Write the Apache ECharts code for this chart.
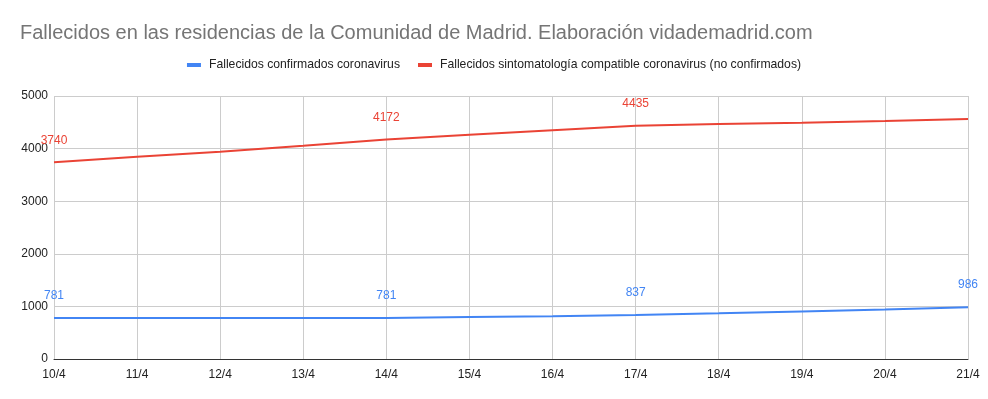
<html>
<head>
  <meta charset="UTF-8">
  <title>Fallecidos residencias Madrid</title>
  <script src="https://cdn.jsdelivr.net/npm/echarts@6/dist/echarts.min.js"></script>
  <style>
    html, body { margin: 0; padding: 0; background: #fff; }
    #main { width: 988px; height: 399px; }
  </style>
</head>
<body>
<div id="main"></div>
<script>
  var dias = ['10/4', '11/4', '12/4', '13/4', '14/4', '15/4', '16/4', '17/4', '18/4', '19/4', '20/4', '21/4'];
  var confirmados = [781, 781, 781, 781, 781, 798, 812, 837, 868, 905, 940, 986];
  var sintomas = [3740, 3846, 3942, 4055, 4172, 4262, 4348, 4435, 4466, 4493, 4526, 4565];
  // puntos con etiqueta visible
  var etiquetasConf = [0, 4, 7, 11];
  var etiquetasSint = [0, 4, 7];

  function conEtiquetas(vals, idx) {
    var out = [];
    for (var i = 0; i < vals.length; i++) {
      out.push({ value: vals[i], label: { show: idx.indexOf(i) >= 0 } });
    }
    return out;
  }

  var fuente = '"Liberation Sans", Arial, sans-serif';
  var myChart = echarts.init(document.getElementById('main'));
  var option = {
    animation: false,
    textStyle: { fontFamily: fuente },
    title: {
      text: 'Fallecidos en las residencias de la Comunidad de Madrid. Elaboración vidademadrid.com',
      left: 15,
      top: 18,
      textStyle: { fontSize: 20, fontWeight: 'normal', color: '#757575', fontFamily: fuente }
    },
    legend: {
      top: 54,
      left: 'center',
      itemWidth: 14,
      itemHeight: 4,
      itemGap: 18,
      icon: 'rect',
      textStyle: { fontSize: 12.2, color: '#222', fontFamily: fuente, padding: [0, 0, 0, 3] },
      data: ['Fallecidos confirmados coronavirus', 'Fallecidos sintomatología compatible coronavirus (no confirmados)']
    },
    grid: { left: 54, right: 20, top: 96, bottom: 40 },
    xAxis: {
      type: 'category',
      boundaryGap: false,
      data: dias,
      axisLine: { lineStyle: { color: '#333', width: 1 } },
      axisTick: { show: false },
      axisLabel: { color: '#222', fontSize: 12, margin: 10, fontFamily: fuente },
      splitLine: { show: true, lineStyle: { color: '#ccc' } }
    },
    yAxis: {
      type: 'value',
      min: 0,
      max: 5000,
      interval: 1000,
      axisLine: { show: false },
      axisTick: { show: false },
      axisLabel: { color: '#222', fontSize: 12, margin: 6, fontFamily: fuente, formatter: function (v) { return String(v); } },
      splitLine: { show: true, lineStyle: { color: '#ccc' } }
    },
    series: [
      {
        name: 'Fallecidos confirmados coronavirus',
        type: 'line',
        showSymbol: true,
        symbol: 'circle',
        symbolSize: 0.1,
        color: '#4285F4',
        lineStyle: { width: 2, color: '#4285F4' },
        label: { position: 'top', distance: 16, color: '#4285F4', fontSize: 12, fontFamily: fuente },
        data: conEtiquetas(confirmados, etiquetasConf)
      },
      {
        name: 'Fallecidos sintomatología compatible coronavirus (no confirmados)',
        type: 'line',
        showSymbol: true,
        symbol: 'circle',
        symbolSize: 0.1,
        color: '#EA4335',
        lineStyle: { width: 2, color: '#EA4335' },
        label: { position: 'top', distance: 16, color: '#EA4335', fontSize: 12, fontFamily: fuente },
        data: conEtiquetas(sintomas, etiquetasSint)
      }
    ]
  };
  myChart.setOption(option);
</script>
</body>
</html>
